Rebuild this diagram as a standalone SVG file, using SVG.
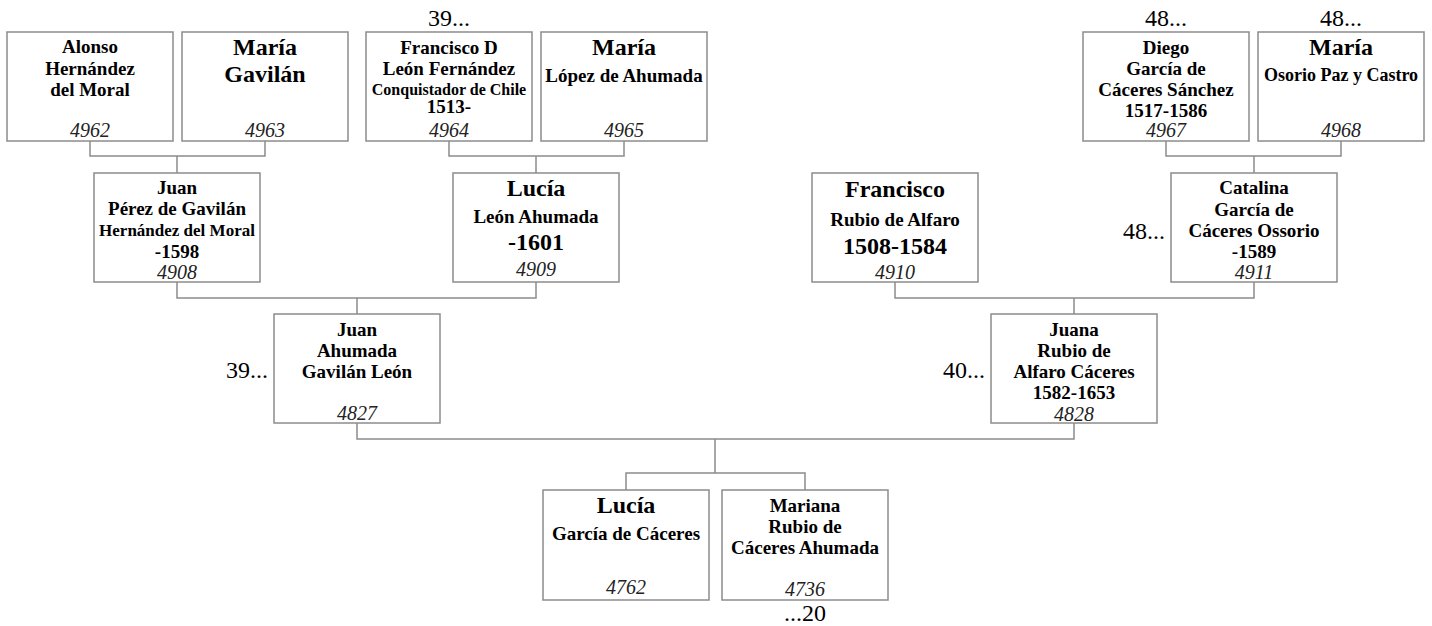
<svg xmlns="http://www.w3.org/2000/svg" width="1432" height="626" viewBox="0 0 1432 626" font-family="'Liberation Serif', 'Times New Roman', serif">
<style>
text{font-family:"Liberation Serif","Times New Roman",serif;fill:#000;text-anchor:middle}
.b{font-weight:bold;font-size:19px}
.bl{font-weight:bold;font-size:24px}
.bs{font-weight:bold;font-size:17px}
.bxs{font-weight:bold;font-size:16px}
.n{font-style:italic;font-size:20px;fill:#222}
.m{font-size:24px}
.e{text-anchor:end}
rect{fill:#fff;stroke:#8c8c8c;stroke-width:1.5}
.c{fill:none;stroke:#8c8c8c;stroke-width:1.5}
</style>
<rect x="0" y="0" width="1432" height="626" style="stroke:none"/>
<g id="connectors">
<path class="c" d="M90 141V156H265V141M177 156V173"/>
<path class="c" d="M449 141V156H624V141M536 156V173"/>
<path class="c" d="M1166 141V156H1341V141M1254 156V173"/>
<path class="c" d="M177 282V298H536V282M357 298V314"/>
<path class="c" d="M895 282V298H1254V282M1074 298V314"/>
<path class="c" d="M357 423V439H1074V423M715 439V473M626 490V473H805V490"/>
</g>
<g id="p4962"><rect x="7" y="32" width="166" height="109"/>
<text class="b" x="90" y="53">Alonso</text><text class="b" x="90" y="74.5">Hernández</text><text class="b" x="90" y="96">del Moral</text><text class="n" x="90" y="137">4962</text></g>
<g id="p4963"><rect x="182" y="32" width="166" height="109"/>
<text class="bl" x="265" y="55">María</text><text class="bl" x="265" y="81.5">Gavilán</text><text class="n" x="265" y="137">4963</text></g>
<g id="p4964"><rect x="366" y="32" width="166" height="109"/>
<text class="m" x="449" y="26">39...</text>
<text class="b" x="449" y="53.5">Francisco D</text><text class="b" x="449" y="74.5">León Fernández</text><text class="bxs" x="449" y="95">Conquistador de Chile</text><text class="b" x="449" y="113">1513-</text><text class="n" x="449" y="137">4964</text></g>
<g id="p4965"><rect x="541" y="32" width="166" height="109"/>
<text class="bl" x="624" y="55">María</text><text class="b" x="624" y="81.5">López de Ahumada</text><text class="n" x="624" y="137">4965</text></g>
<g id="p4967"><rect x="1083" y="32" width="166" height="109"/>
<text class="m" x="1166" y="26">48...</text>
<text class="b" x="1166" y="53.5">Diego</text><text class="b" x="1166" y="74.5">García de</text><text class="b" x="1166" y="96">Cáceres Sánchez</text><text class="b" x="1166" y="117">1517-1586</text><text class="n" x="1166" y="137">4967</text></g>
<g id="p4968"><rect x="1258" y="32" width="166" height="109"/>
<text class="m" x="1341" y="26">48...</text>
<text class="bl" x="1341" y="55">María</text><text class="b" x="1341" y="81" style="font-size:18px">Osorio Paz y Castro</text><text class="n" x="1341" y="137">4968</text></g>
<g id="p4908"><rect x="94" y="173" width="166" height="109"/>
<text class="b" x="177" y="193.5">Juan</text><text class="b" x="177" y="215">Pérez de Gavilán</text><text class="bs" x="177" y="236">Hernández del Moral</text><text class="b" x="177" y="257.5">-1598</text><text class="n" x="177" y="278.5">4908</text></g>
<g id="p4909"><rect x="453" y="173" width="166" height="109"/>
<text class="bl" x="536" y="196">Lucía</text><text class="b" x="536" y="223">León Ahumada</text><text class="bl" x="536" y="249.5">-1601</text><text class="n" x="536" y="276">4909</text></g>
<g id="p4910"><rect x="812" y="173" width="166" height="109"/>
<text class="bl" x="895" y="197">Francisco</text><text class="b" x="895" y="225.5">Rubio de Alfaro</text><text class="bl" x="895" y="253.5">1508-1584</text><text class="n" x="895" y="278.5">4910</text></g>
<g id="p4911"><rect x="1171" y="173" width="166" height="109"/>
<text class="m e" x="1165" y="238.5">48...</text>
<text class="b" x="1254" y="194">Catalina</text><text class="b" x="1254" y="215.5">García de</text><text class="b" x="1254" y="237">Cáceres Ossorio</text><text class="b" x="1254" y="258">-1589</text><text class="n" x="1254" y="279">4911</text></g>
<g id="p4827"><rect x="274" y="314" width="166" height="109"/>
<text class="m e" x="268" y="378">39...</text>
<text class="b" x="357" y="335.5">Juan</text><text class="b" x="357" y="356.5">Ahumada</text><text class="b" x="357" y="377.5">Gavilán León</text><text class="n" x="357" y="420">4827</text></g>
<g id="p4828"><rect x="991" y="314" width="166" height="109"/>
<text class="m e" x="985" y="378">40...</text>
<text class="b" x="1074" y="335.5">Juana</text><text class="b" x="1074" y="357">Rubio de</text><text class="b" x="1074" y="378">Alfaro Cáceres</text><text class="b" x="1074" y="399">1582-1653</text><text class="n" x="1074" y="420.5">4828</text></g>
<g id="p4762"><rect x="543" y="490" width="166" height="110"/>
<text class="bl" x="626" y="513">Lucía</text><text class="b" x="626" y="540">García de Cáceres</text><text class="n" x="626" y="594">4762</text></g>
<g id="p4736"><rect x="722" y="490" width="166" height="110"/>
<text class="b" x="805" y="511.5">Mariana</text><text class="b" x="805" y="533">Rubio de</text><text class="b" x="805" y="554">Cáceres Ahumada</text><text class="n" x="805" y="596">4736</text>
<text class="m" x="805" y="621">...20</text></g>
</svg>
